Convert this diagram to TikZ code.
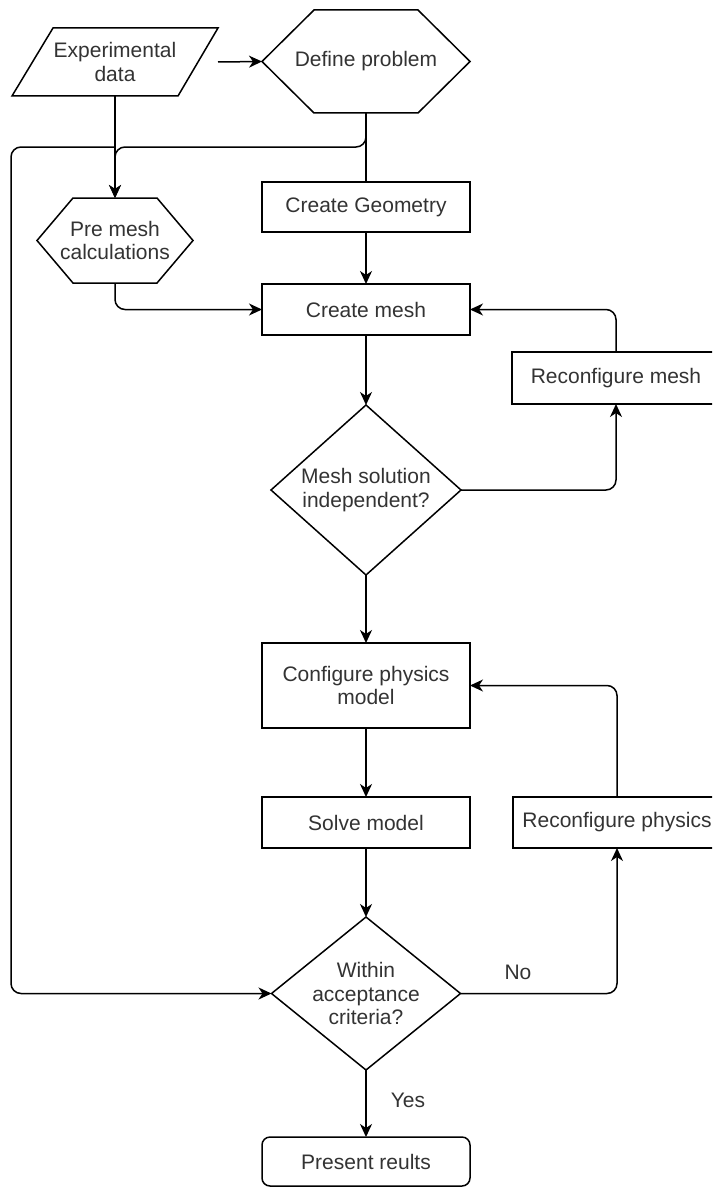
\documentclass[tikz,border=0pt]{standalone}
\usepackage{fontspec}
\setmainfont{Liberation Sans}
\usetikzlibrary{arrows.meta,calc}
\definecolor{txt}{RGB}{51,51,51}
\begin{document}
\begin{tikzpicture}[x=1pt,y=-1pt,
  line width=1.5pt,
  lbl/.style={font=\fontsize{21}{23.5}\selectfont, text=txt, align=center, inner sep=0pt, outer sep=0pt},
  area/.style 2 args={lbl, minimum width=#1, minimum height=#2},
  boxed/.style={draw=black},
  tip/.style={-{Stealth[length=13pt,width=12pt,inset=4pt]}},
  conn/.style={draw=black, rounded corners=10pt, tip},
  plain/.style={draw=black}]
\useasboundingbox (0,0) rectangle (712,1188);
\clip (0,0) rectangle (712,1188);
\fill[white] (0,0) rectangle (712,1188);

% nodes
\node[area={206pt}{68pt}] (exp) at (115,62) {Experimental\\data};
\node[area={208pt}{103pt}] (defp) at (366,61.5) {Define problem};
\node[area={156pt}{85pt}] (pre) at (115,240.5) {Pre mesh\\calculations};
\node[area={208pt}{50pt}, boxed] (geo) at (366,207) {Create Geometry};
\node[area={208pt}{51pt}, boxed] (mesh) at (366,309.5) {Create mesh};
\node[area={208pt}{52pt}, boxed] (rmesh) at (616,378) {Reconfigure mesh};
\node[area={190pt}{170pt}] (d1) at (366,490) {Mesh solution\\independent?};
\node[area={208pt}{85pt}, boxed] (conf) at (366,685.5) {Configure physics\\model};
\node[area={208pt}{51pt}, boxed] (solve) at (366,822.5) {Solve model};
\node[area={208pt}{51pt}, boxed] (rphys) at (617,822.5) {Reconfigure physics};
\node[area={189pt}{153pt}] (d2) at (366,993.5) {Within\\acceptance\\criteria?};
\node[area={208pt}{49pt}, draw=black, rounded corners=8pt] (res) at (366,1161.5) {Present reults};
\node[lbl] (no) at (518,972) {No};
\node[lbl] (yes) at (408,1100) {Yes};

% outlines of special shapes
\draw[plain] ($(exp.north west)+(41,0)$) -- (exp.north east) -- ($(exp.south east)+(-40,0)$) -- (exp.south west) -- cycle;
\draw[plain] (defp.west) -- ($(defp.north west)+(52,0)$) -- ($(defp.north east)+(-52,0)$) -- (defp.east) -- ($(defp.south east)+(-52,0)$) -- ($(defp.south west)+(52,0)$) -- cycle;
\draw[plain] (pre.west) -- ($(pre.north west)+(36,0)$) -- ($(pre.north east)+(-36,0)$) -- (pre.east) -- ($(pre.south east)+(-36,0)$) -- ($(pre.south west)+(36,0)$) -- cycle;
\draw[plain] (d1.north) -- (d1.east) -- (d1.south) -- (d1.west) -- cycle;
\draw[plain] (d2.north) -- (d2.east) -- (d2.south) -- (d2.west) -- cycle;

% helper coordinates
\coordinate (j1) at (115,147);
\coordinate (lt) at (11,147);
\coordinate (lb) at (11,993.5);

% connectors
\draw[conn] (exp.east) -- (defp.west);
\draw[plain] (defp.south) -- (geo.north);
\draw[conn] (defp.south) |- (j1) -- (pre.north);
\draw[conn] (exp.south) -- (pre.north);
\draw[draw=black, tip] (exp.south) -- (j1) [rounded corners=10pt] -- (lt) -- (lb) -- (d2.west);
\draw[conn] (geo.south) -- (mesh.north);
\draw[conn] (pre.south) |- (mesh.west);
\draw[conn] (mesh.south) -- (d1.north);
\draw[conn] (d1.east) -| (rmesh.south);
\draw[conn] (rmesh.north) |- (mesh.east);
\draw[conn] (d1.south) -- (conf.north);
\draw[conn] (conf.south) -- (solve.north);
\draw[conn] (solve.south) -- (d2.north);
\draw[conn] (d2.east) -| (rphys.south);
\draw[conn] (rphys.north) |- (conf.east);
\draw[conn] (d2.south) -- (res.north);
\end{tikzpicture}
\end{document}
